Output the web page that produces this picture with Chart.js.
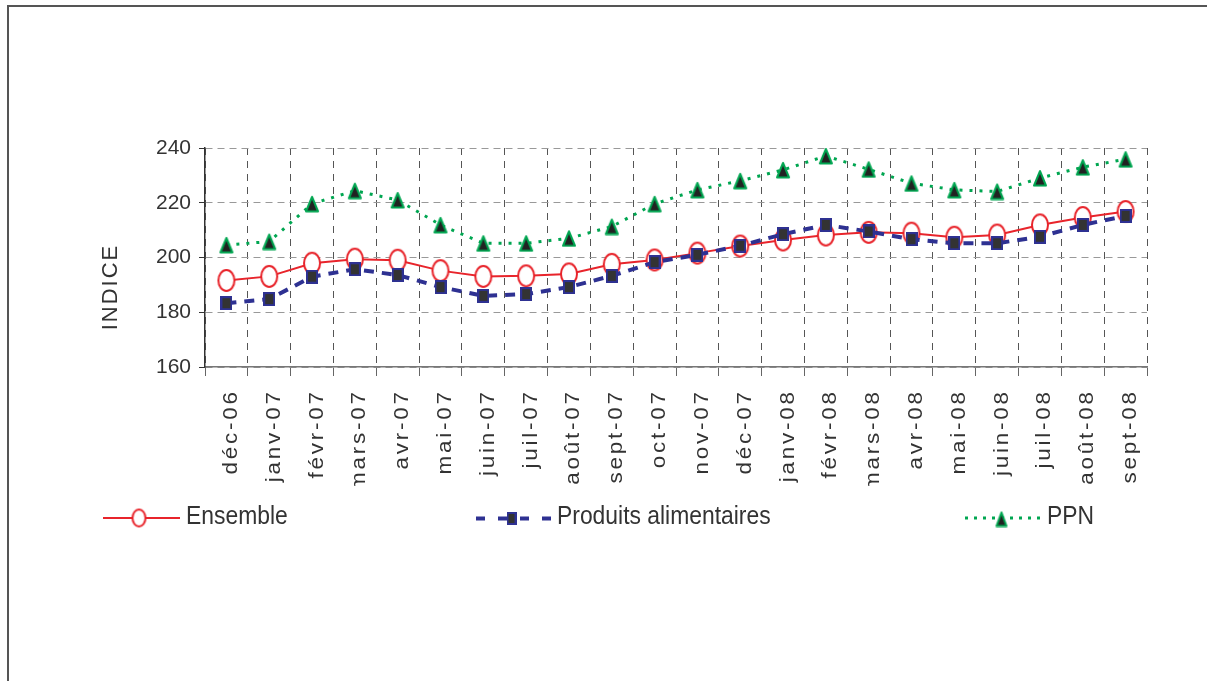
<!DOCTYPE html>
<html>
<head>
<meta charset="utf-8">
<script src="https://cdn.jsdelivr.net/npm/chart.js@4/dist/chart.umd.min.js"></script>
<style>
html,body{margin:0;padding:0;background:#fff;}
canvas{display:block;}
</style>
</head>
<body>
<canvas id="c" width="1207" height="681"></canvas>
<script>
const categories = ['déc-06','janv-07','févr-07','mars-07','avr-07','mai-07','juin-07','juil-07','août-07','sept-07','oct-07','nov-07','déc-07','janv-08','févr-08','mars-08','avr-08','mai-08','juin-08','juil-08','août-08','sept-08'];
const ensemble = [191.6, 193.1, 197.9, 199.4, 199.0, 195.2, 193.1, 193.3, 194.0, 197.5, 199.1, 201.6, 204.2, 206.4, 208.2, 209.2, 208.9, 207.4, 208.2, 211.9, 214.6, 216.8];
const produitsAlimentaires = [183.3, 184.8, 193.0, 195.7, 193.6, 189.2, 186.0, 186.6, 189.2, 193.3, 198.3, 201.0, 204.3, 208.5, 211.9, 209.5, 206.7, 205.2, 205.2, 207.6, 211.9, 215.2];
const ppn = [204.6, 205.8, 219.6, 224.4, 221.0, 211.9, 205.2, 205.2, 207.0, 211.3, 219.6, 224.7, 228.0, 232.0, 237.1, 232.2, 227.1, 224.7, 224.1, 229.0, 233.0, 235.9];
const seriesNames = ['Ensemble', 'Produits alimentaires', 'PPN'];
const yAxisTitle = 'INDICE';
const yMin = 160, yMax = 240, yLabelStep = 20;

const RED = '#E8242B', NAVY = '#2E3192', GREEN = '#00A651', TXT = '#333333';
const FONT = '"Liberation Sans", Arial, sans-serif';

function markerCanvas(w, h, draw) {
  const c = document.createElement('canvas');
  c.width = w; c.height = h;
  draw(c.getContext('2d'), w, h);
  return c;
}
function ellipseMarker(rx, ry) {
  return markerCanvas(Math.ceil(2*rx+4), Math.ceil(2*ry+4), (g, w, h) => {
    g.beginPath(); g.ellipse(w/2, h/2, rx, ry, 0, 0, Math.PI*2);
    g.fillStyle = '#fff'; g.fill(); g.lineWidth = 2; g.strokeStyle = RED; g.stroke();
  });
}
function squareMarker(sw, sh) {
  return markerCanvas(sw, sh, (g, w, h) => {
    g.fillStyle = NAVY; g.fillRect(0, 0, w, h);
    g.fillStyle = '#333'; g.fillRect(2, 2, w-4, h-4);
  });
}
function triMarker(tw, th) {
  return markerCanvas(tw+2, th+2, (g, w, h) => {
    g.beginPath(); g.moveTo(w/2, 2); g.lineTo(w-2, h-1.5); g.lineTo(2, h-1.5); g.closePath();
    g.fillStyle = '#222'; g.fill(); g.lineWidth = 2; g.lineJoin = 'round'; g.strokeStyle = GREEN; g.stroke();
  });
}

const mEns = ellipseMarker(8, 10.5), mProd = squareMarker(12, 14), mPpn = triMarker(14, 16);
const lEns = ellipseMarker(6.5, 8.5), lProd = squareMarker(10, 13), lPpn = triMarker(12, 15);

const deco = {
  id: 'deco',
  beforeDraw(chart) {
    const ctx = chart.ctx;
    ctx.save();
    ctx.fillStyle = '#fff'; ctx.fillRect(0, 0, chart.width, chart.height);
    ctx.strokeStyle = '#555'; ctx.lineWidth = 2;
    ctx.beginPath(); ctx.moveTo(8, 700); ctx.lineTo(8, 6); ctx.lineTo(1220, 6); ctx.stroke();
    ctx.restore();
  },
  afterDraw(chart) {
    const ctx = chart.ctx;
    const xs = chart.scales.x;
    // x category labels (rotated, letter spaced)
    ctx.save();
    ctx.beginPath(); ctx.rect(0, 378, chart.width, 108); ctx.clip();
    ctx.fillStyle = TXT;
    ctx.font = '20px ' + FONT;
    ctx.letterSpacing = '2.5px';
    ctx.textAlign = 'right';
    ctx.textBaseline = 'alphabetic';
    categories.forEach((lab, i) => {
      const x = xs.getPixelForValue(i);
      ctx.save();
      ctx.translate(x + 10.5, 392);
      ctx.rotate(-Math.PI/2);
      ctx.scale(1.12, 1);
      ctx.fillText(lab, 2.5, 0);
      ctx.restore();
    });
    ctx.restore();

    // y axis title
    ctx.save();
    ctx.fillStyle = TXT;
    ctx.font = '22px ' + FONT;
    ctx.letterSpacing = '2px';
    ctx.textAlign = 'center';
    ctx.textBaseline = 'middle';
    ctx.translate(111, 288);
    ctx.rotate(-Math.PI/2);
    ctx.fillText(yAxisTitle, 1, 0);
    ctx.restore();

    // legend
    const ds = chart.data.datasets;
    const items = [
      {x0: 103, x1: 180, mx: 139, my: 518, ly: 518, tx: 186, img: lEns, ds: ds[0]},
      {x0: 476, x1: 551, mx: 511.5, my: 518.5, ly: 518.5, tx: 557, img: lProd, ds: ds[1]},
      {x0: 965, x1: 1040, mx: 1001.5, my: 519, ly: 518, tx: 1047, img: lPpn, ds: ds[2]}
    ];
    const dashes = [[], [9, 13], [3, 6]];
    items.forEach((it, k) => {
      ctx.save();
      ctx.strokeStyle = it.ds.borderColor;
      ctx.lineWidth = it.ds.borderWidth;
      ctx.setLineDash(dashes[k]);
      ctx.beginPath(); ctx.moveTo(it.x0, it.ly); ctx.lineTo(it.x1, it.ly); ctx.stroke();
      ctx.setLineDash([]);
      ctx.drawImage(it.img, it.mx - it.img.width/2, it.my - it.img.height/2);
      ctx.fillStyle = TXT;
      ctx.font = '26px ' + FONT;
      ctx.textAlign = 'left';
      ctx.textBaseline = 'alphabetic';
      ctx.translate(it.tx, 524);
      ctx.scale(0.88, 1);
      ctx.fillText(it.ds.label, 0, 0);
      ctx.restore();
    });
  }
};

new Chart(document.getElementById('c'), {
  type: 'line',
  data: {
    labels: categories,
    datasets: [
      { label: seriesNames[0], data: ensemble, borderColor: RED, backgroundColor: '#fff', borderWidth: 2,
        pointStyle: mEns, pointRadius: 9, pointHoverRadius: 9, tension: 0, fill: false, order: 1, clip: false },
      { label: seriesNames[1], data: produitsAlimentaires, borderColor: NAVY, backgroundColor: '#333', borderWidth: 4,
        borderDash: [10, 8], pointStyle: mProd, pointRadius: 8, pointHoverRadius: 8, tension: 0, fill: false, order: 0, clip: false },
      { label: seriesNames[2], data: ppn, borderColor: GREEN, backgroundColor: '#222', borderWidth: 3,
        borderDash: [3, 7], pointStyle: mPpn, pointRadius: 8, pointHoverRadius: 8, tension: 0, fill: false, order: 2, clip: false }
    ]
  },
  options: {
    responsive: false,
    animation: false,
    events: [],
    layout: { padding: { left: 0, right: 60, top: 148, bottom: 274 } },
    plugins: { legend: { display: false }, tooltip: { enabled: false } },
    scales: {
      x: {
        type: 'category',
        offset: true,
        afterFit(s) { s.height = 40; },
        ticks: { display: false },
        grid: { offset: true, color: '#555', lineWidth: 1, drawTicks: true, tickLength: 9,
                tickColor: '#666', tickWidth: 1, tickBorderDash: [] },
        border: { display: true, color: '#777', width: 1.5, dash: [7, 6] }
      },
      y: {
        min: yMin, max: yMax,
        afterFit(s) { s.width = 205; },
        ticks: {
          stepSize: 10,
          padding: 8,
          color: TXT,
          font: { family: FONT, size: 21 },
          callback: v => (v % yLabelStep === 0 ? String(v) : '')
        },
        grid: { color: '#999', lineWidth: 1, drawTicks: true, tickLength: 6, tickWidth: 1,
                tickBorderDash: [],
                tickColor: c => (c.tick && c.tick.value % yLabelStep === 0 ? '#333' : 'rgba(0,0,0,0)') },
        border: { display: true, color: '#333', width: 1.5, dash: [7, 5] }
      }
    }
  },
  plugins: [deco]
});
</script>
</body>
</html>
